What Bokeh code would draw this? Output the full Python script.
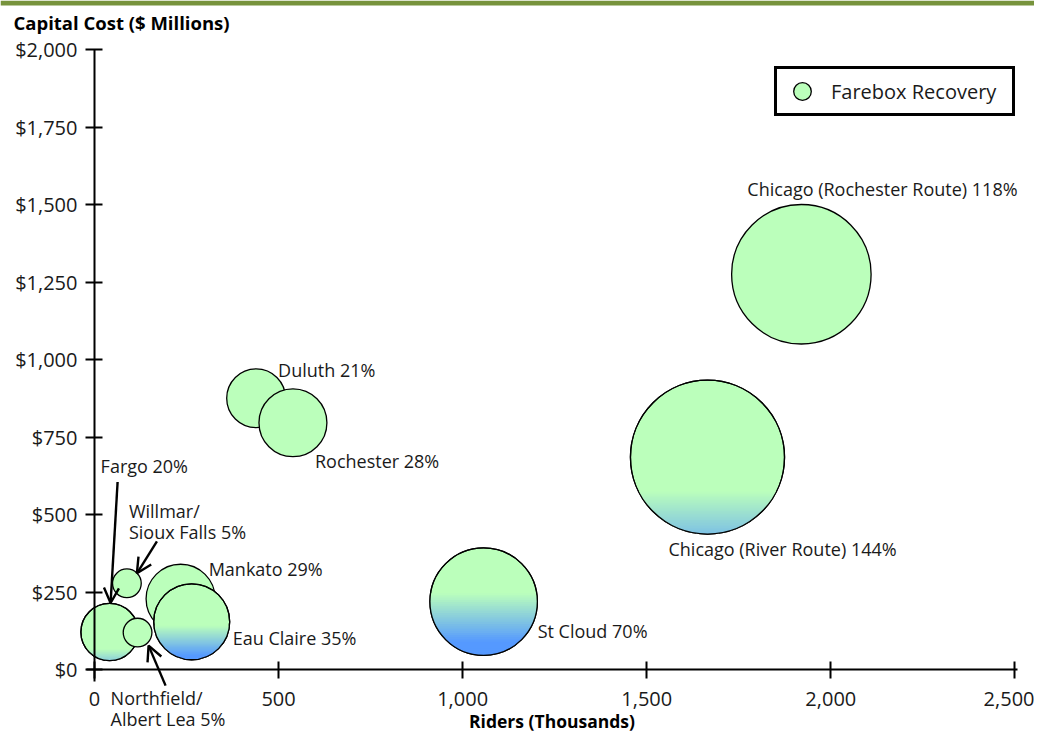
import numpy as np
from bokeh.plotting import figure
from bokeh.models import (ColumnDataSource, LinearAxis, FixedTicker, NumeralTickFormatter,
                          Label, Arrow, OpenHead, Legend, LegendItem, BoxAnnotation, Range1d)
from bokeh.core.properties import value
from bokeh.embed import file_html
from bokeh.resources import INLINE

# ---------------- data ----------------
cities = ["Chicago (Rochester Route)", "Chicago (River Route)", "St Cloud", "Duluth", "Rochester",
          "Fargo", "Willmar/\nSioux Falls", "Northfield/\nAlbert Lea", "Mankato", "Eau Claire"]
riders = [1920, 1665, 1057, 439, 539, 41, 88, 117, 234, 264]          # thousands
capital = [1275, 685, 219, 875, 796, 121, 278, 119, 228, 154]        # $ millions
farebox = [118, 144, 70, 21, 28, 20, 5, 5, 29, 35]                   # percent
x_ticks = [0, 500, 1000, 1500, 2000, 2500]
y_ticks = [0, 250, 500, 750, 1000, 1250, 1500, 1750, 2000]

# ---------------- styles / layout ----------------
FONT = "Open Sans"
GREEN = (187, 255, 187)
BLUE = (85, 153, 255)
K = 6.42  # bubble radius px per sqrt(percent)
# label offsets (px) relative to bubble centre (right / down)
label_off = [(-54, -85), (-39, 92), (54, 29), (22, -28), (22, 38),
             (-9, -166), (2, -62), (-27, 76), (28, -30), (41, 16)]
# gradient params per bubble: (start fraction, full fraction, max blue mix)
grad = [None, (0.72, 1.0, 0.6), (0.42, 0.88, 1.0), None, None,
        (0.80, 1.0, 0.45), None, None, None, (0.55, 0.95, 1.0)]
# arrows: bubble index, start offset px, end offset px
arrows = [(5, (8, -150), (1, -29)), (6, (30, -42), (10, -10)), (7, (28, 53), (11, 13))]
draw_order = [0, 1, 2, 3, 4, 5, 6, 7, 8, 9]

W, H = 1034, 731
SX = 920.4 / 2500.0     # px per thousand riders
SY = 620.0 / 2000.0     # px per $ million
OX, OY = 94.0, 669.0    # canvas position of data origin

x0 = -OX / SX
x1 = (W - OX) / SX
y1 = OY / SY
y0 = (OY - H) / SY

p = figure(width=W, height=H, output_backend="svg", toolbar_location=None,
           x_range=Range1d(x0, x1), y_range=Range1d(y0, y1),
           x_axis_location=None, y_axis_location=None,
           min_border=0, min_border_left=0, min_border_right=0,
           min_border_top=0, min_border_bottom=0)
p.outline_line_color = None
p.grid.visible = False
p.background_fill_color = "white"
p.border_fill_color = "white"

# green bar at top
p.add_layout(BoxAnnotation(bottom=y1 - 5.0 / SY, fill_color="#77933c", fill_alpha=1.0,
                           line_alpha=0, level="underlay"))

def dx(px):
    return px / SX

def dy(px):
    return -px / SY

def mix(t):
    r = [int(round(g + (b - g) * t)) for g, b in zip(GREEN, BLUE)]
    return "#%02x%02x%02x" % tuple(r)

green_hex = mix(0)
legend_renderer = None
for i in draw_order:
    cx, cy = riders[i], capital[i]
    d = 2 * K * np.sqrt(farebox[i])
    r = d / 2
    src = ColumnDataSource(dict(x=[cx], y=[cy], s=[d]))
    rr = p.scatter("x", "y", size="s", source=src, fill_color=green_hex,
                   line_color="black", line_width=1.3)
    if legend_renderer is None:
        legend_renderer = rr
    if grad[i] is not None:
        s0, s1, tmax = grad[i]
        xs, ys, cols = [], [], []
        n = 28
        for k in range(n):
            s = s0 + (1.0 - s0) * k / n
            smid = s + (1.0 - s0) / n / 2
            t = min(max((smid - s0) / (s1 - s0), 0), 1) * tmax
            u = r * (1 - 2 * s)
            th0 = np.arcsin(np.clip(u / r, -1, 1))
            ang = np.linspace(th0, -np.pi - th0, 90)
            xs.append(list(cx + dx((r - 0.3) * np.cos(ang))))
            ys.append(list(cy - dy((r - 0.3) * np.sin(ang))))
            cols.append(mix(t))
        p.patches(xs, ys, fill_color=cols, line_color=None)
        p.scatter([cx], [cy], size=d, fill_color=None, line_color="black", line_width=1.3)

# labels
lab_x = [riders[i] + dx(label_off[i][0]) for i in range(len(cities))]
lab_y = [capital[i] + dy(label_off[i][1]) for i in range(len(cities))]
lab_t = [f"{c} {v}%" for c, v in zip(cities, farebox)]
p.text(lab_x, lab_y, text=lab_t, text_font=value(FONT), text_font_size="18px",
       text_baseline="middle", text_align="left", text_color="#1a1a1a",
       text_line_height=0.85)

# arrows
for (i, (sx_, sy_), (ex_, ey_)) in arrows:
    p.add_layout(Arrow(x_start=riders[i] + dx(sx_), y_start=capital[i] + dy(sy_),
                       x_end=riders[i] + dx(ex_), y_end=capital[i] + dy(ey_),
                       line_width=2.4, line_color="black",
                       end=OpenHead(size=15, line_width=2.4, line_color="black")))

# axes
xaxis = LinearAxis(fixed_location=0, ticker=FixedTicker(ticks=x_ticks),
                   formatter=NumeralTickFormatter(format="0,0"),
                   bounds=(-22, 2508), axis_label="Riders (Thousands)")
yaxis = LinearAxis(fixed_location=0, ticker=FixedTicker(ticks=y_ticks),
                   formatter=NumeralTickFormatter(format="$0,0"),
                   bounds=(-38, 2000))
for ax in (xaxis, yaxis):
    ax.axis_line_width = 2
    ax.axis_line_color = "black"
    ax.major_tick_line_width = 2
    ax.major_tick_line_color = "black"
    ax.major_tick_in = 8
    ax.major_tick_out = 9
    ax.minor_tick_line_color = None
    ax.major_label_text_font = FONT
    ax.major_label_text_font_size = "20px"
    ax.major_label_text_color = "#1a1a1a"
xaxis.major_label_standoff = 13
yaxis.major_label_standoff = 8
xaxis.axis_label_text_font = FONT
xaxis.axis_label_text_font_size = "17.5px"
xaxis.axis_label_text_font_style = "bold"
xaxis.axis_label_text_color = "black"
xaxis.axis_label_standoff = 0
p.add_layout(xaxis, "below")
p.add_layout(yaxis, "left")

# y title at top-left
p.add_layout(Label(x=dx(13 - OX), y=dy(22 - OY), text="Capital Cost ($ Millions)",
                   text_font=FONT, text_font_size="18.5px", text_font_style="bold",
                   text_baseline="middle", text_align="left", text_color="black"))

# legend
legend = Legend(items=[LegendItem(label="Farebox Recovery", renderers=[legend_renderer])],
                location=(774, H - 116), orientation="vertical",
                glyph_width=50, glyph_height=44, padding=0, margin=0,
                label_standoff=4, label_width=181, label_height=44,
                label_text_font=FONT, label_text_font_size="20px",
                label_text_color="#1a1a1a", label_text_baseline="middle",
                border_line_color="black", border_line_width=3, border_line_alpha=1.0,
                background_fill_color="white", background_fill_alpha=1.0,
                spacing=0)
p.add_layout(legend)

open("out.html", "w").write(file_html(p, INLINE))
